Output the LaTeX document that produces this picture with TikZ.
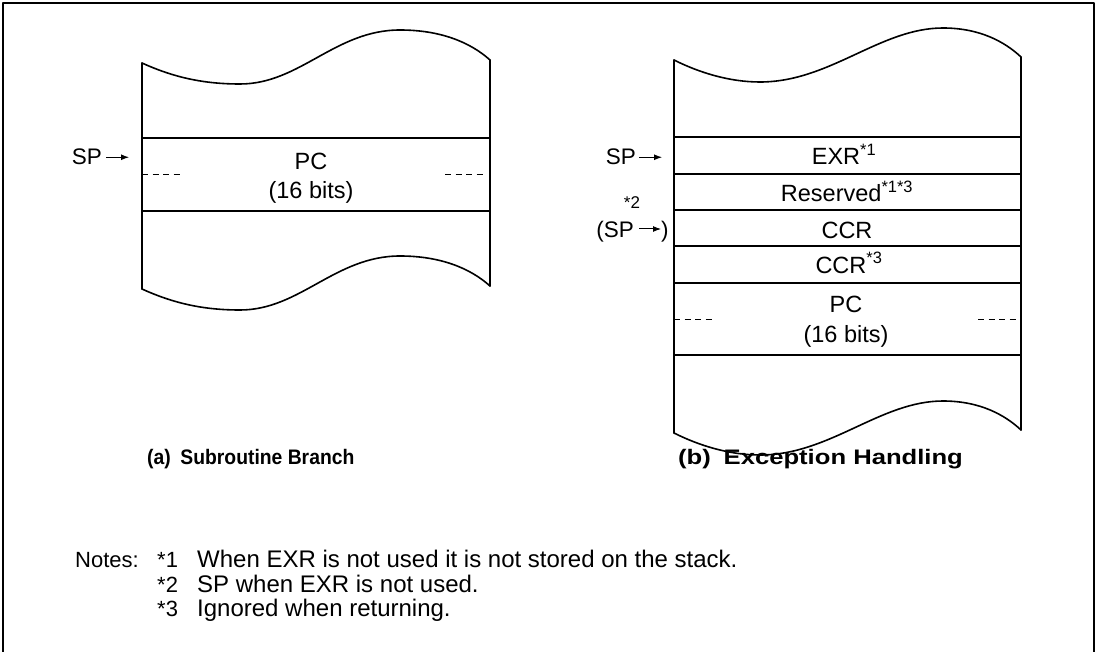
\documentclass[tikz,border=0pt]{standalone}
\usepackage{fontspec}
\setmainfont{Liberation Sans}
\usetikzlibrary{arrows.meta}

\tikzset{
  txt/.style={inner sep=0pt, anchor=base, font=\fontsize{23.5}{28}\selectfont},
  sptxt/.style={inner sep=0pt, anchor=base east, font=\fontsize{22.5}{27}\selectfont},
  capt/.style={inner sep=0pt, anchor=base west, font=\fontsize{21}{25}\selectfont\bfseries},
  notetxt/.style={inner sep=0pt, anchor=base west, font=\fontsize{22}{26}\selectfont},
  outline/.style={line width=1.6pt, line cap=round, line join=round},
  halfsep/.style={line width=0.9pt, dash pattern=on 6pt off 4.5pt},
  sparrow/.style={-{Latex[length=8pt,width=6pt]}, line width=1pt},
}

\begin{document}
\begin{tikzpicture}[x=1pt, y=-1pt]
	\useasboundingbox (0,0) rectangle (1099,652);

	% frame
	\draw[outline] (3,652) -- (3,3) -- (1094,3) -- (1094,652);

	% (a) stack
	\draw[outline] (142,63) .. controls (175,78) and (205,84) .. (240,84)
		.. controls (300,84) and (335,30) .. (400,30)
		.. controls (440,30) and (470,42) .. (490,60);
	\draw[outline, shift={(0,226)}] (142,63) .. controls (175,78) and (205,84) .. (240,84)
		.. controls (300,84) and (335,30) .. (400,30)
		.. controls (440,30) and (470,42) .. (490,60);
	\draw[outline] (142,63) -- (142,289);
	\draw[outline] (490,60) -- (490,286);
	\draw[outline] (142,138) -- (490,138);
	\draw[outline] (142,211) -- (490,211);
	\draw[halfsep] (142,174) -- (183,174);
	\draw[halfsep] (445,174) -- (486,174);

	\node[txt] (pca)   at (311,170) {PC};
	\node[txt] (bitsa) at (311,199) {(16 bits)};

	\node[sptxt] (spa) at (102,165) {SP};
	\coordinate (spaTip) at ([xshift=27pt]spa.east);
	\draw[sparrow] ([xshift=4pt]spa.east) -- (spaTip);

	% (b) stack
	\draw[outline] (674,60) .. controls (700,73) and (730,82) .. (760,82)
		.. controls (830,82) and (880,28) .. (943,28)
		.. controls (980,28) and (1005,42) .. (1021,57);
	\draw[outline, shift={(0,373)}] (674,60) .. controls (700,73) and (730,82) .. (760,82)
		.. controls (830,82) and (880,28) .. (943,28)
		.. controls (980,28) and (1005,42) .. (1021,57);
	\draw[outline] (674,60) -- (674,433);
	\draw[outline] (1021,57) -- (1021,430);
	\draw[outline] (674,137) -- (1021,137);
	\draw[outline] (674,174) -- (1021,174);
	\draw[outline] (674,210) -- (1021,210);
	\draw[outline] (674,246) -- (1021,246);
	\draw[outline] (674,283) -- (1021,283);
	\draw[outline] (674,355) -- (1021,355);
	\draw[halfsep] (674,319) -- (714,319);
	\draw[halfsep] (978,319) -- (1018,319);

	\node[txt] (exr)   at (844,165) {EXR\textsuperscript{*1}};
	\node[txt] (resv)  at (847,202) {Reserved\textsuperscript{*1*3}};
	\node[txt] (ccr)   at (847,238) {CCR};
	\node[txt] (ccrb)  at (849,273) {CCR\textsuperscript{*3}};
	\node[txt] (pcb)   at (846,312) {PC};
	\node[txt] (bitsb) at (846,342) {(16 bits)};

	\node[sptxt] (spb) at (636,165) {SP};
	\coordinate (spbTip) at ([xshift=26pt]spb.east);
	\draw[sparrow] ([xshift=3pt]spb.east) -- (spbTip);

	\node[txt, font=\fontsize{17}{20}\selectfont] (notetwo) at (632,209) {*2};
	\node[sptxt] (spc) at (634,237) {(SP};
	\coordinate (spcTail) at (639,229);
	\coordinate (spcTip) at (661,229);
	\draw[sparrow] (spcTail) -- (spcTip);
	\node[sptxt, anchor=base west] (spcEnd) at (661,237) {)};

	% captions
	\node[capt] (capa) at (147,464) {\scalebox{0.92}[1]{(a)\enspace Subroutine Branch}};
	\node[capt] (capb) at (678,464) {\scalebox{1.22}[1]{(b)\enspace Exception Handling}};

	% notes
	\node[notetxt] (notes) at (75,567) {Notes:};
	\node[notetxt] (mk1) at (157,567) {*1};
	\node[notetxt, font=\fontsize{24}{28}\selectfont] (tx1) at (197,567) {When EXR is not used it is not stored on the stack.};
	\node[notetxt] (mk2) at (157,592) {*2};
	\node[notetxt, font=\fontsize{24}{28}\selectfont] (tx2) at (197,592) {SP when EXR is not used.};
	\node[notetxt] (mk3) at (157,616) {*3};
	\node[notetxt, font=\fontsize{24}{28}\selectfont] (tx3) at (197,616) {Ignored when returning.};
\end{tikzpicture}
\end{document}
